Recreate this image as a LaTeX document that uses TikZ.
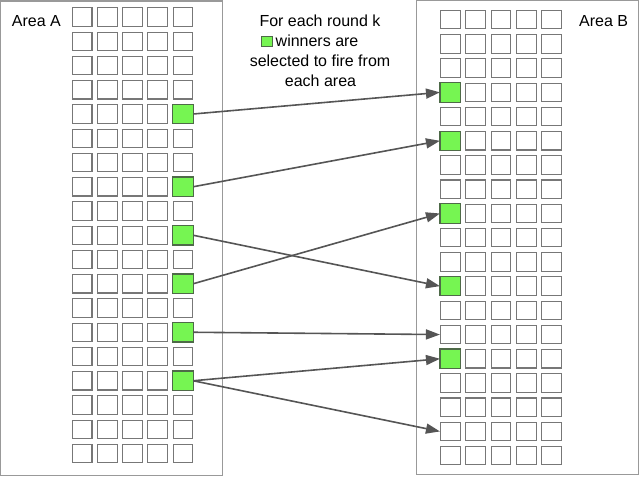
\documentclass[tikz,border=0pt]{standalone}
\usepackage{fontspec}
\setmainfont{Liberation Sans}
\usepackage{tikz}
\usetikzlibrary{arrows.meta,positioning}
\definecolor{cellline}{HTML}{777777}
\definecolor{winner}{HTML}{76F552}
\definecolor{winline}{HTML}{4E6A48}
\definecolor{frame}{HTML}{999999}
\definecolor{wire}{HTML}{555555}

\begin{document}
\begin{tikzpicture}[x=1pt, y=-1pt,
      cell/.style={draw=cellline, line width=1.1pt, fill=white, inner sep=0pt,
                   minimum width=19.6pt, minimum height=18.4pt},
      won/.style={draw=winline, line width=1.1pt, fill=winner},
      area/.style={draw=frame, line width=1.3pt},
      arr/.style={-{Triangle[length=14pt, width=10pt]}, line width=1.6pt, wire},
      lbl/.style={inner sep=0pt, font=\fontsize{16}{19}\selectfont}
    ]
      \useasboundingbox (0,0) rectangle (640,477);

      % the two areas
      \draw[area] (0.7,1) rectangle (222.3,475.7);
      \draw[area] (416.7,0.8) rectangle (638.7,474.3);
      \node[lbl, anchor=base west] (areaA) at (11.7,26.7) {Area A};
      \node[lbl, anchor=base east] (areaB) at (628.3,26.7) {Area B};

      % neuron grids
      \foreach \r in {0,...,18} {
        \foreach \c in {0,...,4} {
          \node[cell] (a-\r-\c) at ({82.2+25.17*\c}, {17+24.25*\r}) {};
          \node[cell] (b-\r-\c) at ({450.3+25.33*\c}, {19.7+24.22*\r}) {};
        }
      }
      \foreach \r in {4,7,9,11,13,15}
        \draw[won] (a-\r-4.south west) rectangle (a-\r-4.north east);
      \foreach \r in {3,5,8,11,14}
        \draw[won] (b-\r-0.south west) rectangle (b-\r-0.north east);

      % legend
      \node[lbl, anchor=base] (round) at (320,26.7) {For each round k};
      \node[lbl, anchor=base west] (winners) at (275.5,46.5) {winners are};
      \node[won, inner sep=0pt, minimum width=11.6pt, minimum height=10pt] (key) at (267,41.2) {};
      \node[lbl, anchor=base] (select) at (320,66.7) {selected to fire from};
      \node[lbl, anchor=base] (each) at (320.5,86.7) {each area};

      % firing
      \draw[arr] (a-4-4.east) -- (b-3-0.west);
      \draw[arr] (a-7-4.east) -- (b-5-0.west);
      \draw[arr] (a-9-4.east) -- (b-11-0.west);
      \draw[arr] (a-11-4.east) -- (b-8-0.west);
      \draw[arr] (a-13-4.east) -- (b-13-0.west);
      \draw[arr] (a-15-4.east) -- (b-14-0.west);
      \draw[arr] (a-15-4.east) -- (b-17-0.west);
    \end{tikzpicture}
\end{document}
